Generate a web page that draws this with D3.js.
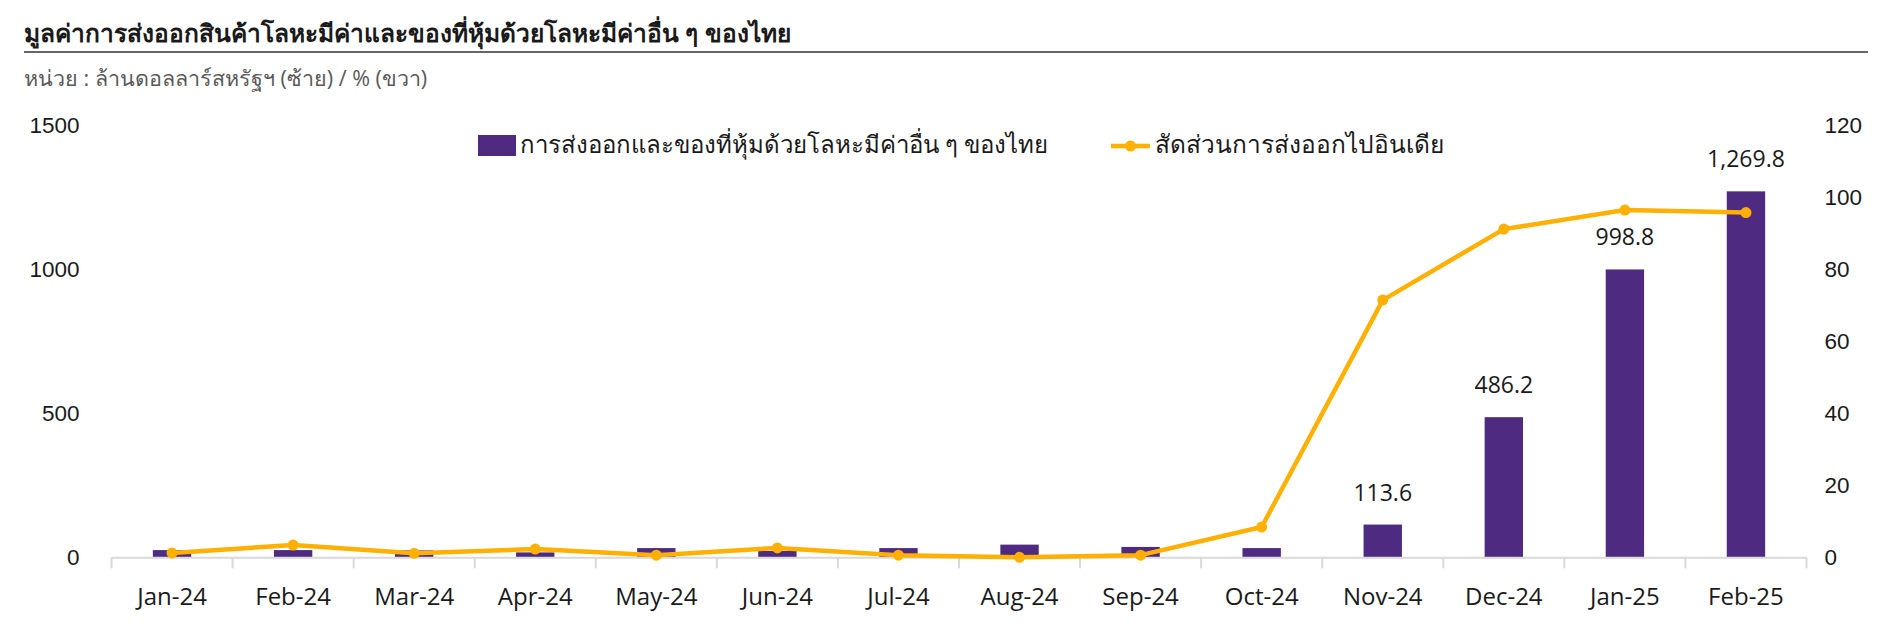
<!DOCTYPE html>
<html>
<head>
<meta charset="utf-8">
<script src="https://cdn.jsdelivr.net/npm/d3@7"></script>
<style>
  html, body { margin: 0; padding: 0; background: #fff; }
  svg { display: block; font-family: "Open Sans", "Noto Sans", "DejaVu Sans", sans-serif; }
</style>
</head>
<body>
<svg id="chart" width="1883" height="629"></svg>
<script>
const categories = ["Jan-24","Feb-24","Mar-24","Apr-24","May-24","Jun-24","Jul-24","Aug-24","Sep-24","Oct-24","Nov-24","Dec-24","Jan-25","Feb-25"];
const exportValues = [25, 25, 24, 17, 32, 22, 32, 44, 36, 32, 113.6, 486.2, 998.8, 1269.8];
const indiaShare = [1.2, 3.4, 1.1, 2.3, 0.6, 2.6, 0.6, 0.0, 0.6, 8.4, 71.4, 91.1, 96.4, 95.7];
const labelledBars = [false,false,false,false,false,false,false,false,false,false,true,true,true,true];
const leftTicks = [0, 500, 1000, 1500];
const rightTicks = [0, 20, 40, 60, 80, 100, 120];
const titleText = "มูลค่าการส่งออกสินค้าโลหะมีค่าและของที่หุ้มด้วยโลหะมีค่าอื่น ๆ ของไทย";
const unitText = "หน่วย : ล้านดอลลาร์สหรัฐฯ (ซ้าย) / % (ขวา)";
const seriesNames = ["การส่งออกและของที่หุ้มด้วยโลหะมีค่าอื่น ๆ ของไทย", "สัดส่วนการส่งออกไปอินเดีย"];

const W = 1883, H = 629;
const m = { left: 111.5, right: 76.5, top: 125, bottom: 71.7 };
const barColor = "#4E2A80", lineColor = "#FFB000", axisColor = "#D9D9D9", textColor = "#1a1a1a";

const svg = d3.select("#chart");

const x = d3.scaleBand().domain(categories).range([m.left, W - m.right]).paddingInner(0.683).paddingOuter(0.3415);
const yL = d3.scaleLinear().domain([0, 1500]).range([H - m.bottom, m.top]);
const yR = d3.scaleLinear().domain([0, 120]).range([H - m.bottom, m.top]);
const step = x.step();

// Title
svg.append("text").attr("x", 24).attr("y", 42).attr("font-size", 24.5).attr("font-weight", "bold")
  .attr("fill", textColor).text(titleText);
svg.append("line").attr("x1", 24).attr("x2", 1868).attr("y1", 52).attr("y2", 52)
  .attr("stroke", "#333").attr("stroke-width", 1.5);
svg.append("text").attr("x", 24).attr("y", 86).attr("font-size", 21.5).attr("fill", "#595959").text(unitText);

// Bars
svg.append("g").selectAll("rect").data(exportValues).join("rect")
  .attr("x", (d, i) => x(categories[i]))
  .attr("width", x.bandwidth())
  .attr("y", d => yL(d))
  .attr("height", d => yL(0) - yL(d))
  .attr("fill", barColor);

// x axis line + boundary ticks
const axisG = svg.append("g").attr("transform", `translate(0,${yL(0)})`);
axisG.call(d3.axisBottom(x).tickSize(0).tickPadding(31))
  .call(g => g.select(".domain").attr("stroke", axisColor).attr("stroke-width", 2))
  .call(g => g.selectAll(".tick text").attr("font-size", 24).attr("fill", textColor).attr("font-family", "'Open Sans', sans-serif"));
const bounds = categories.map(c => x(c) - (step - x.bandwidth()) / 2).concat([W - m.right]);
axisG.selectAll("line.bound").data(bounds).join("line").attr("class", "bound")
  .attr("x1", d => d).attr("x2", d => d).attr("y1", 0).attr("y2", 11)
  .attr("stroke", axisColor).attr("stroke-width", 2);

// Left axis
const la = svg.append("g").attr("transform", `translate(${m.left - 32},0)`)
  .call(d3.axisLeft(yL).tickValues(leftTicks).tickSize(0).tickPadding(0).tickFormat(d3.format("d")));
la.select(".domain").remove();
la.selectAll(".tick text").attr("font-size", 22.5).attr("fill", textColor);

// Right axis
const ra = svg.append("g").attr("transform", `translate(${W - m.right + 18},0)`)
  .call(d3.axisRight(yR).tickValues(rightTicks).tickSize(0).tickPadding(0));
ra.select(".domain").remove();
ra.selectAll(".tick text").attr("font-size", 22.5).attr("fill", textColor);

// Line
const line = d3.line().x((d, i) => x(categories[i]) + x.bandwidth() / 2).y(d => yR(d));
svg.append("path").datum(indiaShare).attr("d", line).attr("fill", "none")
  .attr("stroke", lineColor).attr("stroke-width", 4.5).attr("stroke-linejoin", "round");
svg.append("g").selectAll("circle").data(indiaShare).join("circle")
  .attr("cx", (d, i) => x(categories[i]) + x.bandwidth() / 2)
  .attr("cy", d => yR(d)).attr("r", 5.5).attr("fill", lineColor);

// Data labels
const fmt = d3.format(",.1f");
svg.append("g").selectAll("text").data(exportValues.map((v, i) => ({ v, i })).filter(d => labelledBars[d.i]))
  .join("text")
  .attr("x", d => x(categories[d.i]) + x.bandwidth() / 2)
  .attr("y", d => yL(d.v) - 24)
  .attr("text-anchor", "middle").attr("font-size", 23).attr("fill", textColor)
  .text(d => fmt(d.v));

// Legend
const lg = svg.append("g");
lg.append("rect").attr("x", 478).attr("y", 135).attr("width", 38).attr("height", 21).attr("fill", barColor);
lg.append("text").attr("x", 520).attr("y", 153).attr("font-size", 24).attr("fill", textColor).text(seriesNames[0]);
lg.append("line").attr("x1", 1111).attr("x2", 1150).attr("y1", 146).attr("y2", 146).attr("stroke", lineColor).attr("stroke-width", 4.5);
lg.append("circle").attr("cx", 1130.5).attr("cy", 146).attr("r", 5.5).attr("fill", lineColor);
lg.append("text").attr("x", 1155).attr("y", 153).attr("font-size", 24.5).attr("fill", textColor).text(seriesNames[1]);
</script>
</body>
</html>
